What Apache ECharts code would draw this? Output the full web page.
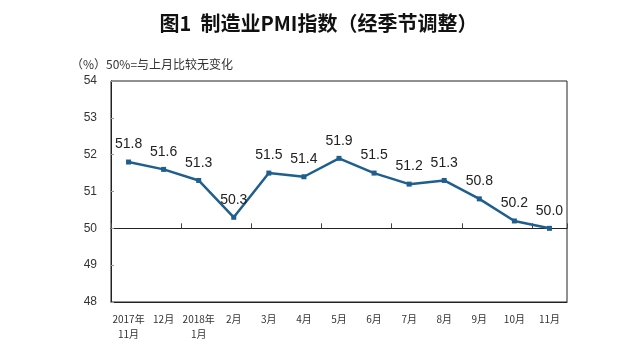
<!DOCTYPE html>
<html><head><meta charset="utf-8">
<script src="https://cdn.jsdelivr.net/npm/echarts@6/dist/echarts.min.js"></script>
<style>html,body{margin:0;padding:0;background:#fff}#c{width:637px;height:357px}</style>
</head><body><div id="c"></div>
<script>
const categories = ['2017年\n11月','12月','2018年\n1月','2月','3月','4月','5月','6月','7月','8月','9月','10月','11月'];
const pmiValues = [51.8, 51.6, 51.3, 50.3, 51.5, 51.4, 51.9, 51.5, 51.2, 51.3, 50.8, 50.2, 50.0];
const yTicks = {min: 48, max: 54, interval: 1};
const baseline = 50;

const chart = echarts.init(document.getElementById('c'));
const gridTop = 81, gridBottom = 55, chartH = 357;
const gridH = chartH - gridTop - gridBottom;
const baseOffset = -(baseline - yTicks.min) / (yTicks.max - yTicks.min) * gridH;
chart.setOption({
  backgroundColor: '#fff',
  animation: false,
  title: [{
    text: '图1  制造业PMI指数（经季节调整）',
    left: 'center', top: 8,
    textStyle: {fontFamily: 'Noto Sans CJK SC', fontSize: 20, fontWeight: 'bold', color: '#111'}
  }, {
    text: '（%）50%=与上月比较无变化',
    left: 66, top: 53,
    textStyle: {fontFamily: 'Noto Sans CJK SC', fontSize: 12, fontWeight: 'normal', color: '#333'}
  }],
  grid: {left: 111, right: 70, top: gridTop, bottom: gridBottom, show: true, borderColor: '#222', borderWidth: 1},
  xAxis: [{
    type: 'category', data: categories, boundaryGap: true,
    axisLine: {show: true, lineStyle: {color: '#222'}},
    axisTick: {show: false},
    axisLabel: {fontFamily: 'Noto Sans CJK SC', fontSize: 10, color: '#333', margin: 10, lineHeight: 15, interval: 0}
  }, {
    type: 'category', data: categories, boundaryGap: true, position: 'bottom', offset: baseOffset,
    axisLine: {show: true, lineStyle: {color: '#222', width: 1}},
    axisTick: {show: true, inside: true, length: 5, lineStyle: {color: '#444'}},
    axisLabel: {show: false}
  }],
  yAxis: {
    type: 'value', min: yTicks.min, max: yTicks.max, interval: yTicks.interval,
    axisLine: {show: true, lineStyle: {color: '#222'}},
    axisTick: {show: true, inside: true, length: 3, lineStyle: {color: '#999'}},
    splitLine: {show: false},
    axisLabel: {fontFamily: 'Liberation Sans', fontSize: 12, color: '#333', margin: 14}
  },
  series: [{
    type: 'line', data: pmiValues, xAxisIndex: 0,
    symbol: 'rect', symbolSize: 5,
    lineStyle: {color: '#1f5f8e', width: 2.5},
    itemStyle: {color: '#1f5f8e'},
    label: {show: true, position: 'top', distance: 8, formatter: p => p.value.toFixed(1),
      fontFamily: 'Liberation Sans', fontSize: 14, color: '#222'}
  }]
});
</script></body></html>
